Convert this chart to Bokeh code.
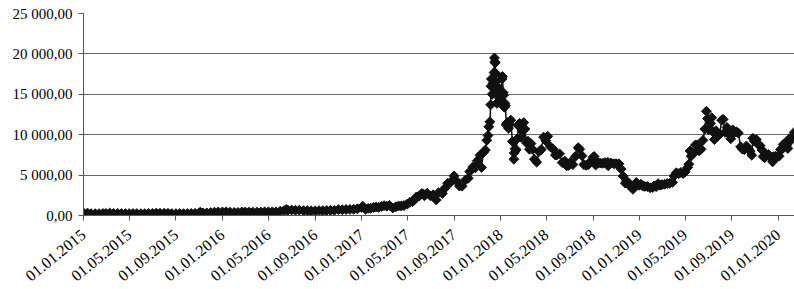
import math
import pandas as pd
from bokeh.plotting import figure
from bokeh.models import FixedTicker, Range1d
from bokeh.embed import file_html
from bokeh.resources import INLINE

# ---- data ----
dates = [
 "2015-01-01","2015-01-11","2015-01-14","2015-01-21","2015-02-01","2015-02-11","2015-02-21","2015-03-01","2015-03-11","2015-03-21",
 "2015-04-01","2015-04-11","2015-04-21","2015-05-01","2015-05-11","2015-05-21","2015-06-01","2015-06-11","2015-06-21","2015-07-01",
 "2015-07-11","2015-07-21","2015-08-01","2015-08-11","2015-08-21","2015-09-01","2015-09-11","2015-09-21","2015-10-01","2015-10-11",
 "2015-10-21","2015-11-01","2015-11-04","2015-11-11","2015-11-21","2015-12-01","2015-12-11","2015-12-21",
 "2016-01-01","2016-01-11","2016-01-21","2016-02-01","2016-02-11","2016-02-21","2016-03-01","2016-03-11","2016-03-21","2016-04-01",
 "2016-04-11","2016-04-21","2016-05-01","2016-05-11","2016-05-21","2016-06-01","2016-06-11","2016-06-17","2016-06-21","2016-07-01",
 "2016-07-11","2016-07-21","2016-08-01","2016-08-11","2016-08-21","2016-09-01","2016-09-11","2016-09-21","2016-10-01","2016-10-11",
 "2016-10-21","2016-11-01","2016-11-11","2016-11-21","2016-12-01","2016-12-11","2016-12-21",
 "2017-01-01","2017-01-04","2017-01-11","2017-01-18","2017-01-25","2017-02-01","2017-02-08","2017-02-15","2017-02-22","2017-03-01",
 "2017-03-08","2017-03-15","2017-03-24","2017-04-01","2017-04-08","2017-04-15","2017-04-22","2017-05-01","2017-05-08","2017-05-15",
 "2017-05-22","2017-05-25","2017-06-01","2017-06-08","2017-06-12","2017-06-15","2017-06-22","2017-07-01","2017-07-08","2017-07-16",
 "2017-07-22","2017-08-01","2017-08-08","2017-08-15","2017-08-22","2017-09-01","2017-09-08","2017-09-15","2017-09-22","2017-10-01",
 "2017-10-08","2017-10-12","2017-10-20","2017-10-27","2017-11-01","2017-11-08","2017-11-12","2017-11-17","2017-11-22","2017-11-26",
 "2017-11-29","2017-12-01","2017-12-04","2017-12-06","2017-12-07","2017-12-08","2017-12-10","2017-12-12","2017-12-13","2017-12-15",
 "2017-12-16","2017-12-17","2017-12-18","2017-12-19","2017-12-20","2017-12-21","2017-12-22","2017-12-24","2017-12-25","2017-12-27",
 "2017-12-28","2017-12-30","2017-12-31",
 "2018-01-02","2018-01-03","2018-01-05","2018-01-06","2018-01-08","2018-01-09","2018-01-11","2018-01-12","2018-01-14","2018-01-16",
 "2018-01-17","2018-01-19","2018-01-22","2018-01-25","2018-01-28","2018-02-01","2018-02-03","2018-02-05","2018-02-06","2018-02-08",
 "2018-02-11","2018-02-14","2018-02-17","2018-02-20","2018-02-24","2018-02-28","2018-03-03",
 "2018-03-06","2018-03-10","2018-03-14","2018-03-18","2018-03-22","2018-03-26","2018-03-31","2018-04-06","2018-04-12","2018-04-18",
 "2018-04-24","2018-04-30","2018-05-05","2018-05-12","2018-05-19","2018-05-25","2018-05-29","2018-06-05","2018-06-12","2018-06-19",
 "2018-06-24","2018-06-29","2018-07-04","2018-07-10","2018-07-17","2018-07-24","2018-07-28","2018-08-03","2018-08-08","2018-08-14",
 "2018-08-20","2018-08-26","2018-09-01","2018-09-04","2018-09-08","2018-09-14","2018-09-20","2018-09-26","2018-10-02","2018-10-10",
 "2018-10-11","2018-10-18","2018-10-26","2018-11-01","2018-11-08","2018-11-14","2018-11-19","2018-11-25","2018-11-28","2018-12-04",
 "2018-12-10","2018-12-15","2018-12-19","2018-12-24","2018-12-28","2018-12-31",
 "2019-01-05","2019-01-10","2019-01-15","2019-01-22","2019-01-29","2019-02-05","2019-02-08","2019-02-14","2019-02-19","2019-02-24",
 "2019-03-01","2019-03-08","2019-03-15","2019-03-22","2019-03-29","2019-04-02","2019-04-08","2019-04-14","2019-04-20","2019-04-26",
 "2019-05-01","2019-05-08","2019-05-11","2019-05-14","2019-05-17","2019-05-22","2019-05-28","2019-06-02","2019-06-07","2019-06-12",
 "2019-06-17","2019-06-22","2019-06-26","2019-06-29","2019-07-02","2019-07-07","2019-07-10","2019-07-14","2019-07-17","2019-07-21",
 "2019-07-26","2019-07-31","2019-08-05","2019-08-09","2019-08-14","2019-08-19","2019-08-24","2019-08-29","2019-09-03","2019-09-08",
 "2019-09-13","2019-09-18","2019-09-24","2019-09-29","2019-10-04","2019-10-09","2019-10-14","2019-10-19","2019-10-23","2019-10-26",
 "2019-10-30","2019-11-04","2019-11-09","2019-11-14","2019-11-19","2019-11-22","2019-11-26","2019-12-01","2019-12-06","2019-12-11",
 "2019-12-17","2019-12-19","2019-12-24","2019-12-29",
 "2020-01-03","2020-01-07","2020-01-10","2020-01-14","2020-01-18","2020-01-22","2020-01-26","2020-01-30","2020-02-03","2020-02-07",
 "2020-02-10","2020-02-12",
]
prices = [
 314,274,178,227,226,220,245,260,296,260,
 247,236,235,232,242,235,223,229,245,258,
 293,276,281,270,235,229,240,230,237,247,
 267,325,403,311,322,362,415,437,
 434,449,410,372,379,438,435,419,412,417,
 422,449,451,452,443,537,606,748,666,677,
 648,665,606,592,581,572,607,597,613,641,
 632,731,716,739,756,773,834,
 998,1154,777,879,893,989,1052,1009,1120,1222,
 1150,1245,937,1080,1181,1180,1232,1421,1640,1727,
 2044,2305,2408,2720,2660,2442,2750,2434,2561,1930,
 2830,2718,3379,4000,4087,4892,4230,3637,3630,4403,
 4611,5431,5996,5905,6767,7459,5950,7790,8100,9300,
 9900,10975,11600,13700,16000,16900,15000,16800,16400,17700,
 19500,19000,18900,17600,16600,15600,13900,14000,14000,15800,
 14600,14000,14160,
 15200,15200,16900,17200,15200,14900,13400,13900,13600,11200,
 11400,11500,10800,11300,11800,9170,9100,6955,7750,8260,
 8130,9500,11100,11400,9700,10400,11500,
 10700,9000,9200,8200,8900,8200,6970,6600,7900,8170,
 9700,9240,9800,8500,8240,7480,7500,7630,6550,6730,
 6150,6200,6600,6300,7320,8400,8200,7400,6300,6200,
 6300,6700,7200,7300,6250,6500,6500,6450,6550,6580,
 6150,6500,6400,6400,6400,5740,4870,4000,4280,3960,
 3500,3250,3750,4100,3900,3740,
 3860,3630,3600,3580,3430,3470,3650,3570,3940,3750,
 3820,3860,3960,4000,4100,4880,5290,5170,5330,5200,
 5400,5950,6350,7990,7360,7620,8720,8740,8000,8200,
 9300,10700,12900,12000,10600,11400,12100,10300,9400,10500,
 9850,10080,11800,11900,10300,10900,10100,9500,10600,10300,
 10360,10200,8500,8200,8150,8600,8300,7950,7470,9550,
 9200,9400,8800,8650,8100,7300,7150,7420,7550,7200,
 6640,7280,7320,7300,
 7340,8160,8160,8800,8900,8650,8300,9500,9300,9800,
 9850,10300,
]
x_tick_labels = ["01.01.2015", "01.05.2015", "01.09.2015", "01.01.2016", "01.05.2016", "01.09.2016",
                 "01.01.2017", "01.05.2017", "01.09.2017", "01.01.2018", "01.05.2018", "01.09.2018",
                 "01.01.2019", "01.05.2019", "01.09.2019", "01.01.2020"]
y_ticks = [0, 5000, 10000, 15000, 20000, 25000]
y_tick_labels = ["0,00", "5 000,00", "10 000,00", "15 000,00", "20 000,00", "25 000,00"]
x_start = "2015-01-01"
x_end = "2020-02-12"

x = pd.to_datetime(dates)
tick_dt = pd.to_datetime(x_tick_labels, format="%d.%m.%Y")
tick_ms = [float(t.value // 10**6) for t in tick_dt]

FONT = "Liberation Serif"

p = figure(width=794, height=289, output_backend="svg", toolbar_location=None,
           x_axis_type="datetime",
           x_range=Range1d(pd.Timestamp(x_start), pd.Timestamp(x_end) + pd.Timedelta(hours=12)),
           y_range=Range1d(0, 25000),
           min_border_left=83, min_border_right=0, min_border_top=13, min_border_bottom=74)
p.outline_line_color = None
p.background_fill_color = "white"
p.border_fill_color = "white"

# grid
p.xgrid.grid_line_color = None
p.ygrid.grid_line_color = "#666666"
p.ygrid.grid_line_width = 1
p.ygrid.ticker = FixedTicker(ticks=y_ticks)

# y axis
p.yaxis.ticker = FixedTicker(ticks=y_ticks)
p.yaxis.major_label_overrides = {t: s for t, s in zip(y_ticks, y_tick_labels)}
p.yaxis.minor_tick_line_color = None
p.yaxis.major_tick_out = 5
p.yaxis.major_tick_in = 0
p.yaxis.axis_line_color = "#555555"
p.yaxis.major_tick_line_color = "#555555"
p.yaxis.major_label_text_font = FONT
p.yaxis.major_label_text_font_size = "15px"
p.yaxis.major_label_text_color = "black"
p.yaxis.major_label_standoff = 6

# x axis
p.xaxis.ticker = FixedTicker(ticks=tick_ms)
p.xaxis.major_label_overrides = {t: s for t, s in zip(tick_ms, x_tick_labels)}
p.xaxis.minor_tick_line_color = None
p.xaxis.major_tick_out = 5
p.xaxis.major_tick_in = 0
p.xaxis.axis_line_color = "#555555"
p.xaxis.major_tick_line_color = "#555555"
p.xaxis.major_label_text_font = FONT
p.xaxis.major_label_text_font_size = "16px"
p.xaxis.major_label_text_color = "black"
p.xaxis.major_label_orientation = 0.68
p.xaxis.major_label_standoff = 12

# series
p.line(x, prices, line_color="#111111", line_width=1.5)
p.scatter(x, prices, marker="square", angle=math.pi / 4, size=7,
          fill_color="#111111", line_color="#111111")

open("out.html", "w").write(file_html(p, INLINE))
